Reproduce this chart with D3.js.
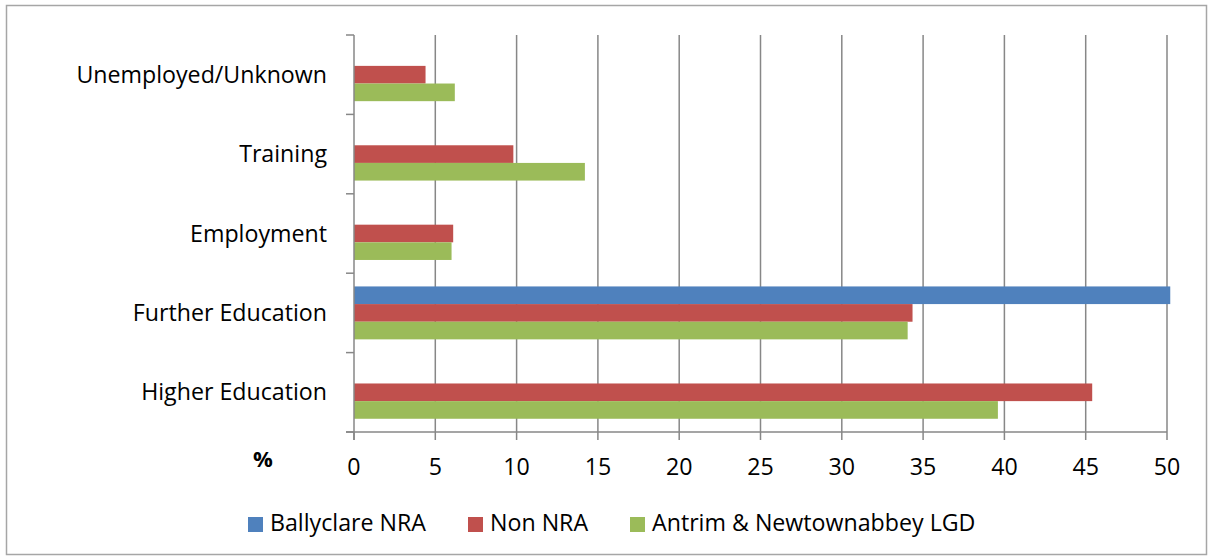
<!DOCTYPE html>
<html><head><meta charset="utf-8">
<script src="https://cdn.jsdelivr.net/npm/d3@7"></script>
<style>body{margin:0;background:#fff;} text{font-family:"Open Sans",Lato,sans-serif;fill:#000;}</style>
</head><body><svg id="c" width="1209" height="560"></svg>
<script>
const categories = ["Unemployed/Unknown","Training","Employment","Further Education","Higher Education"];
const seriesNames = ["Ballyclare NRA","Non NRA","Antrim & Newtownabbey LGD"];
const ballyclare = [0, 0, 0, 50.2, 0];
const nonNRA = [4.4, 9.8, 6.1, 34.35, 45.4];
const lgd = [6.2, 14.2, 6.0, 34.05, 39.6];
const xTicks = [0,5,10,15,20,25,30,35,40,45,50];
const colors = ["#4F81BD","#C0504D","#9BBB59"];

const svg = d3.select("#c");
svg.append("rect").attr("x",6.5).attr("y",5.5).attr("width",1200).attr("height",549)
  .attr("fill","#fff").attr("stroke","#a6a6a6").attr("stroke-width",1.5);

const L=354, R=1167, T=35, B=432;
const x = d3.scaleLinear().domain([0,50]).range([L,R]);
const y = d3.scaleBand().domain(categories).range([T,B]).paddingInner(0).paddingOuter(0);
const seriesData = [ballyclare, nonNRA, lgd];
const bh = y.bandwidth()/4.5;

// gridlines
svg.append("g").selectAll("line").data(xTicks.slice(1)).join("line")
  .attr("x1",d=>x(d)).attr("x2",d=>x(d)).attr("y1",T).attr("y2",B)
  .attr("stroke","#878787").attr("stroke-width",1.5);

// bars
seriesData.forEach((vals,si)=>{
  svg.append("g").selectAll("rect").data(categories).join("rect")
    .attr("x",x(0))
    .attr("y",(c)=>y(c)+bh*0.75+si*bh)
    .attr("width",(c,i)=>x(vals[i])-x(0))
    .attr("height",bh)
    .attr("fill",colors[si]);
});

// left axis
const gl = svg.append("g");
gl.append("line").attr("x1",L).attr("x2",L).attr("y1",T).attr("y2",B+8).attr("stroke","#878787").attr("stroke-width",1.5);
const yt = categories.map(c=>y(c)).concat([B]);
gl.selectAll("line.t").data(yt).join("line").attr("class","t")
  .attr("x1",L-8).attr("x2",L).attr("y1",d=>d).attr("y2",d=>d).attr("stroke","#878787").attr("stroke-width",1.5);
gl.selectAll("text").data(categories).join("text")
  .attr("x",327).attr("y",c=>y(c)+y.bandwidth()/2+8)
  .attr("text-anchor","end").attr("font-size",23.2).text(d=>d);

// bottom axis
const gb = svg.append("g");
gb.append("line").attr("x1",L-8).attr("x2",R).attr("y1",B).attr("y2",B).attr("stroke","#878787").attr("stroke-width",1.5);
gb.selectAll("line.t").data(xTicks).join("line").attr("class","t")
  .attr("x1",d=>x(d)).attr("x2",d=>x(d)).attr("y1",B).attr("y2",B+8).attr("stroke","#878787").attr("stroke-width",1.5);
gb.selectAll("text").data(xTicks).join("text")
  .attr("x",d=>x(d)).attr("y",475).attr("text-anchor","middle").attr("font-size",23.2).text(d=>d);
svg.append("text").attr("x",263).attr("y",467).attr("text-anchor","middle").attr("font-size",22).attr("font-weight","bold").text("%");

// legend
const legX = [248, 468, 630];
const legTX = [270, 490, 652];
const lg = svg.append("g");
seriesNames.forEach((n,i)=>{
  lg.append("rect").attr("x",legX[i]).attr("y",517).attr("width",15).attr("height",15).attr("fill",colors[i]);
  lg.append("text").attr("x",legTX[i]).attr("y",531).attr("font-size",23.2).text(n);
});
</script></body></html>
